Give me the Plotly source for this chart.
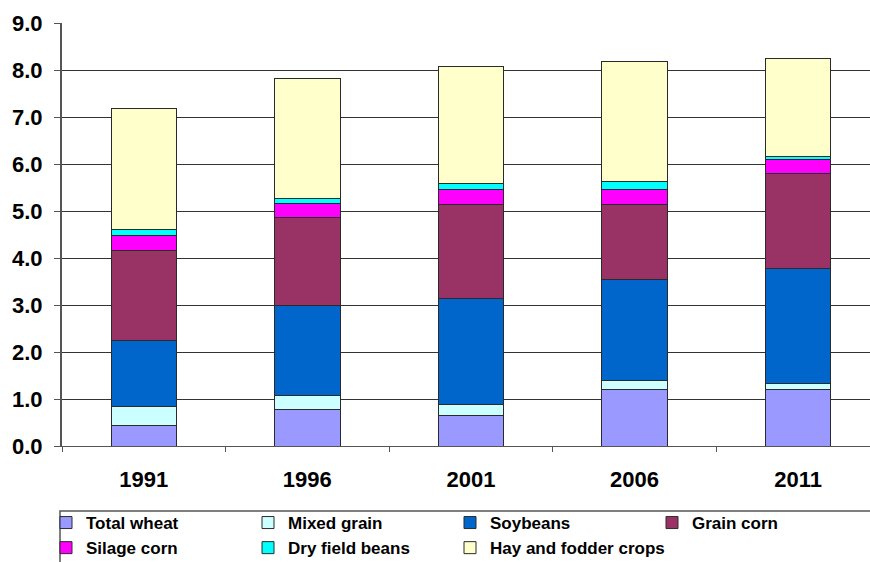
import plotly.graph_objects as go

years = ["1991", "1996", "2001", "2006", "2011"]
series_names = ["Total wheat", "Mixed grain", "Soybeans", "Grain corn",
                "Silage corn", "Dry field beans", "Hay and fodder crops"]
total_wheat = [0.43, 0.78, 0.65, 1.21, 1.21]
mixed_grain = [0.42, 0.30, 0.24, 0.18, 0.12]
soybeans = [1.39, 1.90, 2.25, 2.16, 2.45]
grain_corn = [1.91, 1.89, 2.00, 1.59, 2.02]
silage_corn = [0.33, 0.29, 0.31, 0.31, 0.29]
dry_field_beans = [0.13, 0.11, 0.14, 0.17, 0.08]
hay_fodder = [2.57, 2.54, 2.48, 2.56, 2.08]
y_ticks = [0, 1, 2, 3, 4, 5, 6, 7, 8, 9]

values = [total_wheat, mixed_grain, soybeans, grain_corn,
          silage_corn, dry_field_beans, hay_fodder]
colors = ["#9999FF", "#CCFFFF", "#0066CC", "#993366",
          "#FF00FF", "#00FFFF", "#FFFFCC"]

fig = go.Figure()
for name, vals, col in zip(series_names, values, colors):
    fig.add_trace(go.Bar(
        x=years, y=vals, name=name,
        marker=dict(color=col, line=dict(color="#2a2a2a", width=1)),
        width=0.4,
    ))

font_family = "Liberation Sans, Arial, sans-serif"
fig.update_layout(
    barmode="stack",
    width=870, height=562,
    margin=dict(l=62, r=0, t=23, b=116),
    paper_bgcolor="white", plot_bgcolor="white",
    font=dict(family=font_family, color="#000000"),
    showlegend=True,
    legend=dict(
        orientation="h", traceorder="normal",
        xref="container", x=46 / 870, xanchor="left",
        yref="container", y=1 - 505 / 562, yanchor="top",
        entrywidth=157, entrywidthmode="pixels",
        font=dict(family=font_family, size=17, color="#000", weight="bold"),
        bgcolor="rgba(0,0,0,0)", borderwidth=0,
        itemwidth=30, tracegroupgap=0,
    ),
    shapes=[dict(
        type="rect", xref="paper", yref="paper",
        x0=-2 / 808, x1=1.01, y0=-65 / 423, y1=-0.4,
        line=dict(color="#555555", width=1.5), fillcolor="rgba(0,0,0,0)",
        layer="below",
    )],
    xaxis=dict(
        type="category", range=[-0.5, 4.44],
        showline=True, linecolor="#555555", linewidth=1,
        ticks="outside", tickson="boundaries", ticklen=5, tickcolor="#555555",
        tickfont=dict(size=22, family=font_family, weight="bold"),
        ticklabelstandoff=14,
        showgrid=False,
    ),
    yaxis=dict(
        range=[0, 9], tickvals=y_ticks, tickformat=".1f",
        showline=True, linecolor="#555555", linewidth=2,
        ticks="outside", ticklen=6, tickcolor="#555555",
        tickfont=dict(size=22, family=font_family, weight="bold"),
        showgrid=True, gridcolor="#333333", gridwidth=1,
        zeroline=False,
        ticklabelstandoff=7,
    ),
)

fig.write_html("out.html", config={"displayModeBar": False},
               post_script="document.body.style.margin='0px';")
